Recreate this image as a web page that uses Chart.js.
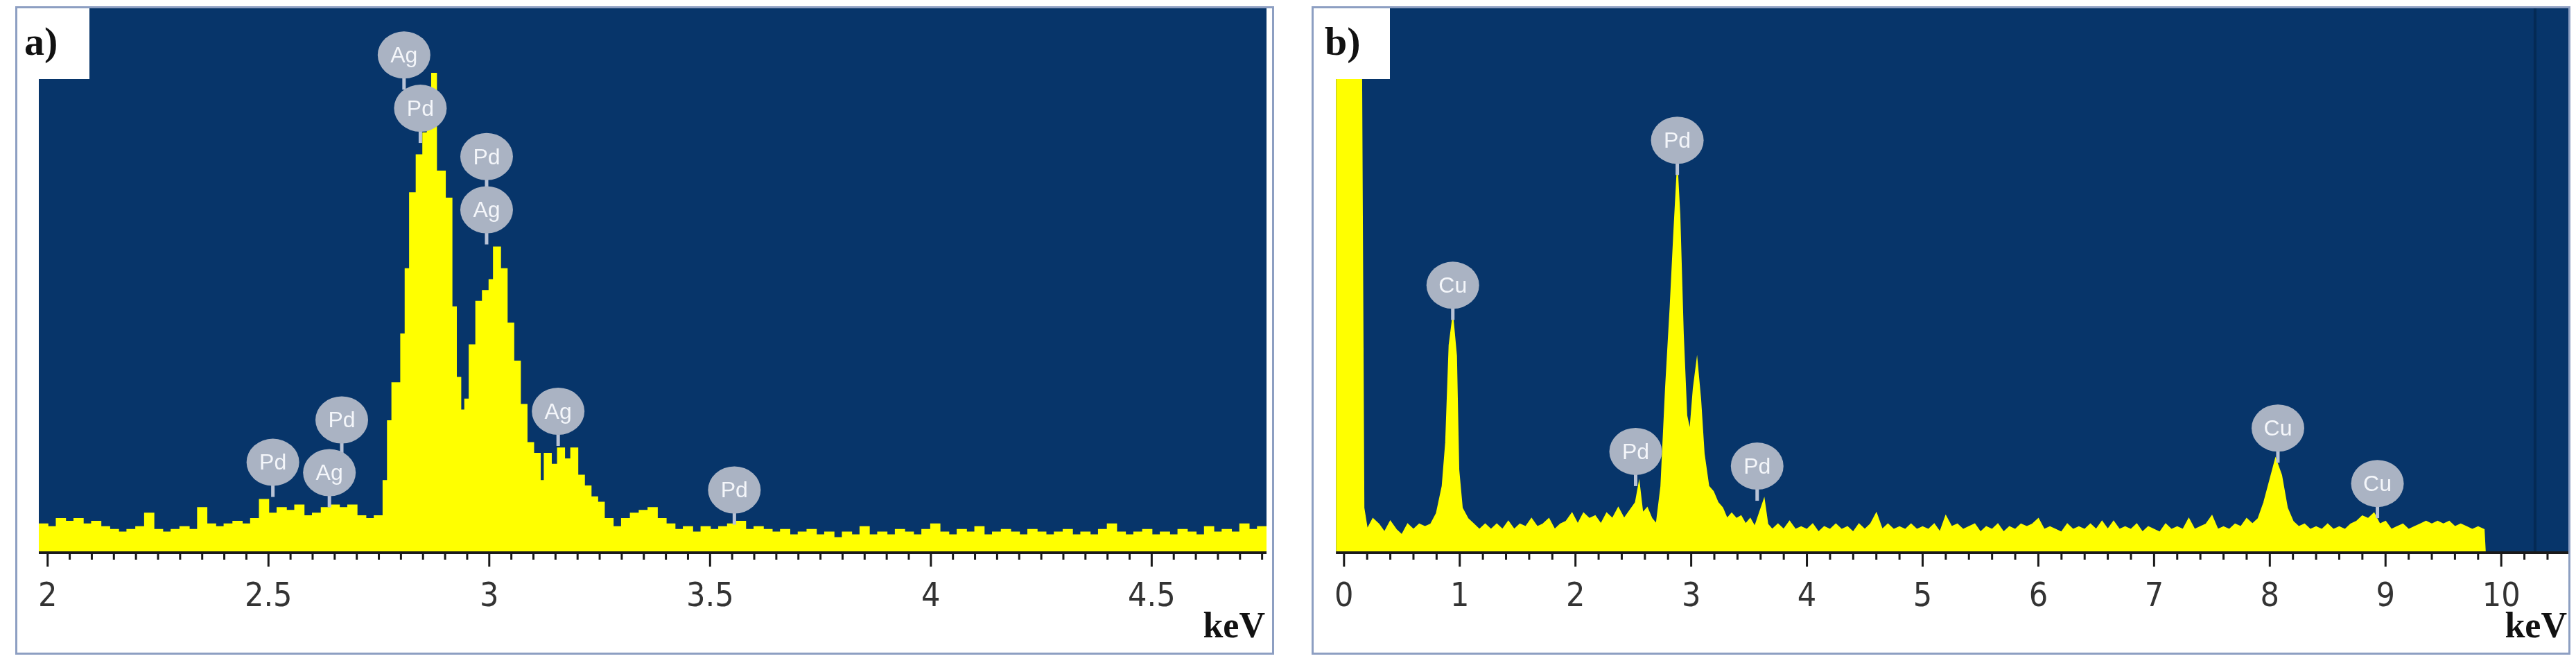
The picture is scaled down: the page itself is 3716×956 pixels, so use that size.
<!DOCTYPE html>
<html>
<head>
<meta charset="utf-8">
<script src="https://cdn.jsdelivr.net/npm/chart.js@4"></script>
<style>
	body { margin: 0; background: #fff; width: 3716px; height: 956px; overflow: hidden; position: relative; }
	.panel { position: absolute; top: 9px; width: 1816px; height: 935px; box-sizing: border-box; border: 3px solid #8d9fc2; }
	.tag { position: absolute; top: 0; left: 0; width: 104px; height: 102px; background: #fff; font: bold 58px 'Liberation Serif', serif; color: #111; padding-left: 10px; box-sizing: border-box; line-height: 96px; }
</style>
</head>
<body>
<div class="panel" id="pa" style="left:22px"><canvas id="chartA"></canvas><div class="tag">a)</div></div>
<div class="panel" id="pb" style="left:1892px"><canvas id="chartB"></canvas><div class="tag" style="left:6px">b)</div></div>
<script>
// panel a) spectrum, keV vs relative counts (% of plot height)
const aX = [1.98,2.0,2.02,2.04,2.06,2.08,2.1,2.12,2.14,2.16,2.18,2.2,2.22,2.24,2.26,2.28,2.3,2.32,2.34,2.36,2.38,2.4,2.42,2.44,2.46,2.48,2.5,2.52,2.54,2.56,2.58,2.6,2.62,2.64,2.66,2.68,2.7,2.72,2.74,2.76,2.77,2.78,2.8,2.81,2.82,2.835,2.85,2.86,2.87,2.88,2.9,2.915,2.925,2.935,2.945,2.955,2.97,2.985,3.0,3.01,3.025,3.04,3.055,3.07,3.085,3.1,3.115,3.125,3.14,3.155,3.17,3.185,3.2,3.215,3.23,3.245,3.26,3.28,3.3,3.32,3.34,3.36,3.38,3.4,3.42,3.44,3.46,3.48,3.5,3.52,3.54,3.56,3.58,3.6,3.62,3.64,3.66,3.68,3.7,3.72,3.74,3.76,3.78,3.8,3.82,3.84,3.86,3.88,3.9,3.92,3.94,3.96,3.98,4.0,4.02,4.04,4.06,4.08,4.1,4.12,4.14,4.16,4.18,4.2,4.22,4.24,4.26,4.28,4.3,4.32,4.34,4.36,4.38,4.4,4.42,4.44,4.46,4.48,4.5,4.52,4.54,4.56,4.58,4.6,4.62,4.64,4.66,4.68,4.7,4.72,4.74,4.76];
const aY = [5,4.5,6,5.5,6,5,5.5,4.5,4,3.5,4,4.5,7,4,3.5,4,4.5,4,8,5,4.5,5,5.5,5,6,9.5,7,8,7.5,8.5,6.5,7,8,8.5,8,8.5,6.5,6,6.5,13,24,31,40,52,66,73,77,84,88,70,65,45,32,26,28,38,46,48,50,56,52,42,35,27,20,18,13,18,16,19,17,19,14,12,10,9,6,4.5,6,7,7.5,8,6,5,4,4.5,3.5,4.5,4,4.5,5,5.5,4,4.5,4,3.5,4,3,3.5,4,3,3.5,2.5,3.5,3,4.5,3,3.5,3,4,3.5,3,4,5,3.5,3,4,3.5,4.5,3,3.5,4,3.5,3,4,3.5,3,3.5,4,3,3.5,3,4,5,3.5,3,3.5,4,3,3.5,3,4,3.5,3,4.5,3.5,4,3.5,5,4,4.5,4];
const aLabels = ['Ag','Pd','Pd','Ag','Pd','Pd','Ag','Ag','Pd'];
const aLabelX = [2.807,2.844,2.994,2.994,2.51,2.666,2.638,3.156,3.555];
const aLabelY = [91.4,81.6,72.7,62.9,16.4,24.2,14.5,25.8,11.3];

// panel b) spectrum
const bX = [-0.07,0.14,0.17,0.2,0.25,0.3,0.35,0.4,0.45,0.5,0.55,0.6,0.65,0.7,0.75,0.8,0.85,0.88,0.91,0.94,0.97,0.99,1.02,1.07,1.12,1.17,1.22,1.27,1.32,1.37,1.42,1.47,1.52,1.57,1.62,1.67,1.72,1.77,1.82,1.87,1.92,1.97,2.02,2.07,2.12,2.17,2.22,2.27,2.32,2.37,2.42,2.47,2.52,2.55,2.58,2.62,2.66,2.7,2.74,2.78,2.82,2.85,2.88,2.9,2.93,2.96,2.99,3.02,3.05,3.08,3.11,3.15,3.19,3.23,3.27,3.31,3.35,3.39,3.43,3.47,3.51,3.55,3.59,3.63,3.66,3.7,3.75,3.8,3.85,3.9,3.95,4.0,4.05,4.1,4.15,4.2,4.25,4.3,4.35,4.4,4.45,4.5,4.55,4.6,4.65,4.7,4.75,4.8,4.85,4.9,4.95,5.0,5.05,5.1,5.15,5.2,5.25,5.3,5.35,5.4,5.45,5.5,5.55,5.6,5.65,5.7,5.75,5.8,5.85,5.9,5.95,6.0,6.05,6.1,6.15,6.2,6.25,6.3,6.35,6.4,6.45,6.5,6.55,6.6,6.65,6.7,6.75,6.8,6.85,6.9,6.95,7.0,7.05,7.1,7.15,7.2,7.25,7.3,7.35,7.4,7.45,7.5,7.55,7.6,7.65,7.7,7.75,7.8,7.85,7.9,7.95,8.0,8.05,8.1,8.15,8.2,8.25,8.3,8.35,8.4,8.45,8.5,8.55,8.6,8.65,8.7,8.75,8.8,8.85,8.9,8.95,9.0,9.05,9.1,9.15,9.2,9.25,9.3,9.35,9.4,9.45,9.5,9.55,9.6,9.65,9.7,9.75,9.8,9.85,9.86];
const bY = [130,130,8,4,6,5,3.5,5.5,4,3,5,4,5,4.5,5,7,12,20,38,43,36,15,8,6,5,4,5,4,5,4,5.5,4,5,4.5,6,4.5,5,6,4,5,5.5,7,5,7,6,6.5,5,7,6,8,6,7.5,9,12.5,7,8,6,5,12,30,45,58,70,62,40,25,22,30,35,28,18,12,11,9,8,6,7,6,6.5,5,6,4.5,7,9.5,5,4,5,4,5.5,4,4.5,4,5,3.5,4.5,4,5,4,4.5,3.5,5,4,5,7,4,5,4,4.5,4,5,4,4.5,4,5,3.5,6.5,4.5,5,4,4.5,5,3.5,4.5,4,5,3.5,4.5,4,5,4.5,5,6,4,4.5,4,3.5,5,4,4.5,4,5,4,5.5,4,5.5,4,4.5,4,5,3.5,4.5,4,3.5,5,4,4.5,4,6,4,4.5,5,6.5,4,4.5,4,5,4.5,6,5,6,9,13,17,14,8,5.5,4.5,5,4,4.5,4,5,4,4.5,4,5,5.5,6.5,6,7,5,5.5,4,4.5,5,4,4.5,5,5.5,5,5.5,5,5.5,4.5,5,4.5,4,4.5,4,0];
const bLabels = ['Cu','Pd','Pd','Pd','Cu','Cu'];
const bLabelX = [0.94,2.88,2.52,3.57,8.07,8.93];
const bLabelY = [49,75.7,18.4,15.7,22.7,12.5];

const NAVY = '#07356a';
const YELLOW = '#ffff00';

const panelPlugin = {
	id: 'panel',
	beforeDatasetsDraw(chart, args, opts) {
		const { ctx, chartArea: a } = chart;
		ctx.save();
		ctx.fillStyle = NAVY;
		ctx.fillRect(a.left, a.top, a.right - a.left, a.bottom - a.top);
		if (opts.divider != null) {
			const px = chart.scales.x.getPixelForValue(opts.divider);
			ctx.fillStyle = '#042a55';
			ctx.fillRect(px, a.top, 4, a.bottom - a.top);
		}
		ctx.restore();
	},
	afterDatasetsDraw(chart, args, opts) {
		const { ctx, chartArea: a, scales } = chart;
		ctx.save();
		// balloons
		opts.labels.forEach((t, i) => {
			const cx = scales.x.getPixelForValue(opts.lx[i]);
			const cy = scales.y.getPixelForValue(opts.ly[i]);
			ctx.strokeStyle = '#b9c3d6';
			ctx.lineWidth = 5;
			ctx.beginPath();
			ctx.moveTo(cx, cy + 28);
			ctx.lineTo(cx, cy + 50);
			ctx.stroke();
			ctx.fillStyle = '#aab3c3';
			ctx.beginPath();
			ctx.ellipse(cx, cy, 38, 34, 0, 0, Math.PI * 2);
			ctx.fill();
			ctx.fillStyle = '#f4f6fa';
			ctx.font = '32px "Liberation Sans", sans-serif';
			ctx.textAlign = 'center';
			ctx.textBaseline = 'middle';
			ctx.fillText(t, cx, cy + 2);
		});
		// axis line and ticks
		ctx.fillStyle = '#1a1a1a';
		ctx.fillRect(a.left, a.bottom, a.right - a.left, 4);
		const x = scales.x;
		const n = Math.round((x.max - opts.tickStart) / opts.minor);
		for (let k = 0; k <= n; k++) {
			const v = opts.tickStart + k * opts.minor;
			if (v > x.max) break;
			const major = k % opts.per === 0;
			const px = x.getPixelForValue(v);
			ctx.fillRect(px - 1.5, a.bottom, 3, major ? 22 : 12);
		}
		// unit
		ctx.font = 'bold 52px "Liberation Serif", serif';
		ctx.textAlign = 'right';
		ctx.textBaseline = 'middle';
		ctx.fillStyle = '#111';
		ctx.fillText('keV', a.right - 2, chart.height - 35);
		ctx.restore();
	}
};

function makeChart(id, xs, ys, opts) {
	const pts = xs.map((v, i) => ({ x: v, y: ys[i] }));
	return new Chart(document.getElementById(id), {
		type: 'line',
		data: {
			datasets: [{
				data: pts,
				borderColor: YELLOW,
				backgroundColor: YELLOW,
				borderWidth: 2,
				fill: 'origin',
				pointRadius: 0,
				stepped: opts.stepped,
				tension: 0
			}]
		},
		options: {
			responsive: true,
			maintainAspectRatio: false,
			animation: false,
			devicePixelRatio: 1,
			layout: { padding: { left: opts.padLeft, right: opts.padRight, top: 0, bottom: 0 } },
			plugins: {
				legend: { display: false },
				tooltip: { enabled: false },
				panel: opts.panel
			},
			scales: {
				x: {
					type: 'linear',
					min: opts.min,
					max: opts.max,
					grid: { display: false },
					border: { display: false },
					afterFit: s => { s.height = 146; },
					ticks: {
						stepSize: opts.step,
						includeBounds: false,
						autoSkip: false,
						maxRotation: 0,
						padding: 30,
						color: '#333',
						font: { family: '"Liberation Sans Narrow", "DejaVu Sans Condensed", sans-serif', size: 48 },
						callback: v => String(Math.round(v * 10) / 10)
					}
				},
				y: { display: false, min: 0, max: 100 }
			}
		},
		plugins: [panelPlugin]
	});
}

makeChart('chartA', aX, aY, {
	stepped: true, min: 1.98, max: 4.76, step: 0.5, padLeft: 0, padRight: 8,
	panel: { labels: aLabels, lx: aLabelX, ly: aLabelY, tickStart: 2, minor: 0.05, per: 10 }
});
makeChart('chartB', bX, bY, {
	stepped: false, min: -0.07, max: 10.58, step: 1, padLeft: 12, padRight: 0,
	panel: { labels: bLabels, lx: bLabelX, ly: bLabelY, tickStart: 0, minor: 0.2, per: 5, divider: 10.28 }
});
</script>
</body>
</html>
